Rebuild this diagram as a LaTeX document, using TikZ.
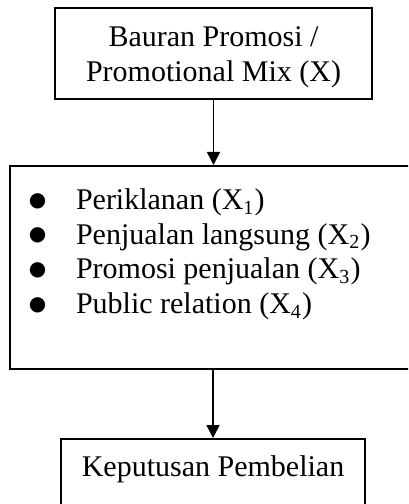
\documentclass[tikz,border=0pt]{standalone}
\usepackage{fontspec}
\setmainfont{Liberation Serif}
\newfontfamily\bulletfont{DejaVu Sans}
\usetikzlibrary{arrows.meta}
\tikzset{
    box/.style={rectangle, draw, line width=0.8pt,
    	font=\fontsize{12}{13.8}\selectfont}
}
\tikzset{
    flow/.style={-{Triangle[width=5.2pt,length=5.2pt]}, line width=0.6pt}
}
\newcommand{\itembullet}{\raisebox{1.4pt}{\fontsize{8}{8}\bulletfont ●}}

\begin{document}
\begin{tikzpicture}[x=0.4pt, y=-0.4pt]
  \clip (0,0) rectangle (408,504);

  \node (mix) [box, minimum width=126.8pt, minimum height=36.4pt,
    text height=8pt, text depth=13.2pt] at (213.5,53.5)
    {\begin{tabular}[t]{@{}c@{}}Bauran Promosi /\\Promotional Mix (X)\end{tabular}};

  \node (tools) [box, minimum width=162.4pt, minimum height=81.2pt,
    inner xsep=7.6pt, text height=8pt, text depth=54pt] at (213,267.5)
    {\begin{tabular}[t]{@{}p{18.8pt}@{}p{128.4pt}@{}}
     \itembullet & Periklanan (X\textsubscript{1})\\
     \itembullet & Penjualan langsung (X\textsubscript{2})\\
     \itembullet & Promosi penjualan (X\textsubscript{3})\\
     \itembullet & Public relation (X\textsubscript{4})
     \end{tabular}};

  \node (buy) [box, anchor=north, minimum width=121.6pt, inner ysep=6.8pt,
    text height=8pt, text depth=12pt] at (213,438) {Keputusan Pembelian};

  \draw[flow] (mix.south) -- (mix.south |- tools.north);
  \draw[flow] (tools.south) -- (tools.south |- buy.north);
\end{tikzpicture}
\end{document}
